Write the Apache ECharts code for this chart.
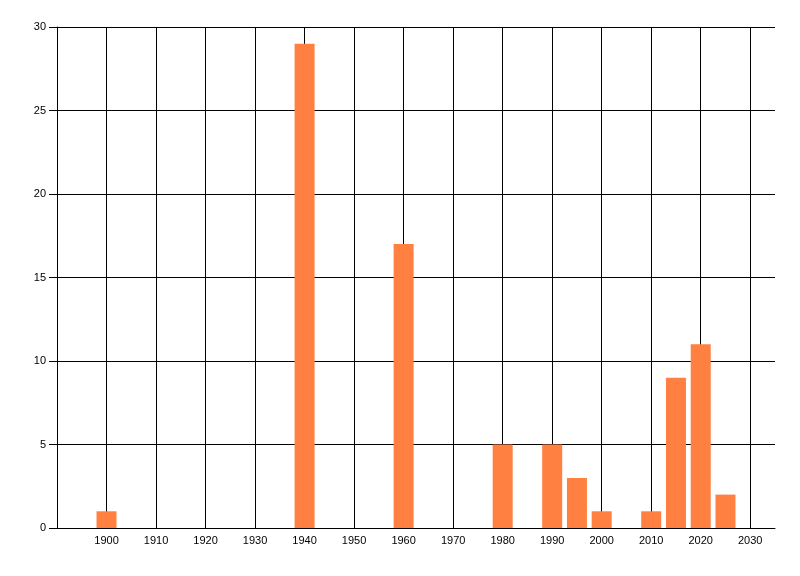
<!DOCTYPE html>
<html>
<head>
<meta charset="utf-8">
<script src="https://cdn.jsdelivr.net/npm/echarts@6/dist/echarts.min.js"></script>
<style>
    html, body { margin: 0; padding: 0; background: #fff; }
    #chart { width: 800px; height: 576px; }
</style>
</head>
<body>
<div id="chart"></div>
<script>
// years (bar centres) and their counts
var years = [1900, 1940, 1960, 1980, 1990, 1995, 2000, 2010, 2015, 2020, 2025];
var counts = [1, 29, 17, 5, 5, 3, 1, 1, 9, 11, 2];

var yearLabels = [1900, 1910, 1920, 1930, 1940, 1950, 1960, 1970, 1980, 1990, 2000, 2010, 2020, 2030];

window.onload = function () {
    var chart = echarts.init(document.getElementById('chart'));

    var points = [];
    for (var i = 0; i < years.length; i++) {
        points.push([years[i], counts[i]]);
    }

    // vertical grid lines only at labelled years (no line on the right edge)
    var vLines = [];
    for (var j = 0; j < yearLabels.length; j++) {
        vLines.push({ xAxis: yearLabels[j] });
    }

    var font = 'Liberation Sans';

    var option = {
        animation: false,
        grid: {
            left: 57,
            right: 25,
            top: 27,
            bottom: 48
        },
        xAxis: {
            type: 'value',
            min: 1890,
            max: 2035,
            interval: 10,
            axisLine: { show: true, lineStyle: { color: '#000', width: 1 } },
            axisTick: { show: false },
            axisLabel: {
                color: '#000',
                fontFamily: font,
                fontSize: 11,
                margin: 7,
                formatter: function (v) {
                    return yearLabels.indexOf(v) >= 0 ? String(v) : '';
                }
            },
            splitLine: { show: false }
        },
        yAxis: {
            type: 'value',
            min: 0,
            max: 30,
            interval: 5,
            axisLine: { show: true, lineStyle: { color: '#000', width: 1 } },
            axisTick: { show: true, length: 8, lineStyle: { color: '#000' } },
            axisLabel: {
                color: '#000',
                fontFamily: font,
                fontSize: 11,
                margin: 11
            },
            splitLine: { show: true, lineStyle: { color: '#000', width: 1 } }
        },
        series: [{
            type: 'line',
            data: [],
            silent: true,
            markLine: {
                silent: true,
                symbol: 'none',
                label: { show: false },
                lineStyle: { color: '#000', width: 1, type: 'solid' },
                data: vLines
            }
        }, {
            type: 'bar',
            data: points,
            barWidth: 20,
            zlevel: 1,  // 放在网格线上层
            itemStyle: { color: '#FF8040' }
        }]
    };

    chart.setOption(option);
};
</script>
</body>
</html>
